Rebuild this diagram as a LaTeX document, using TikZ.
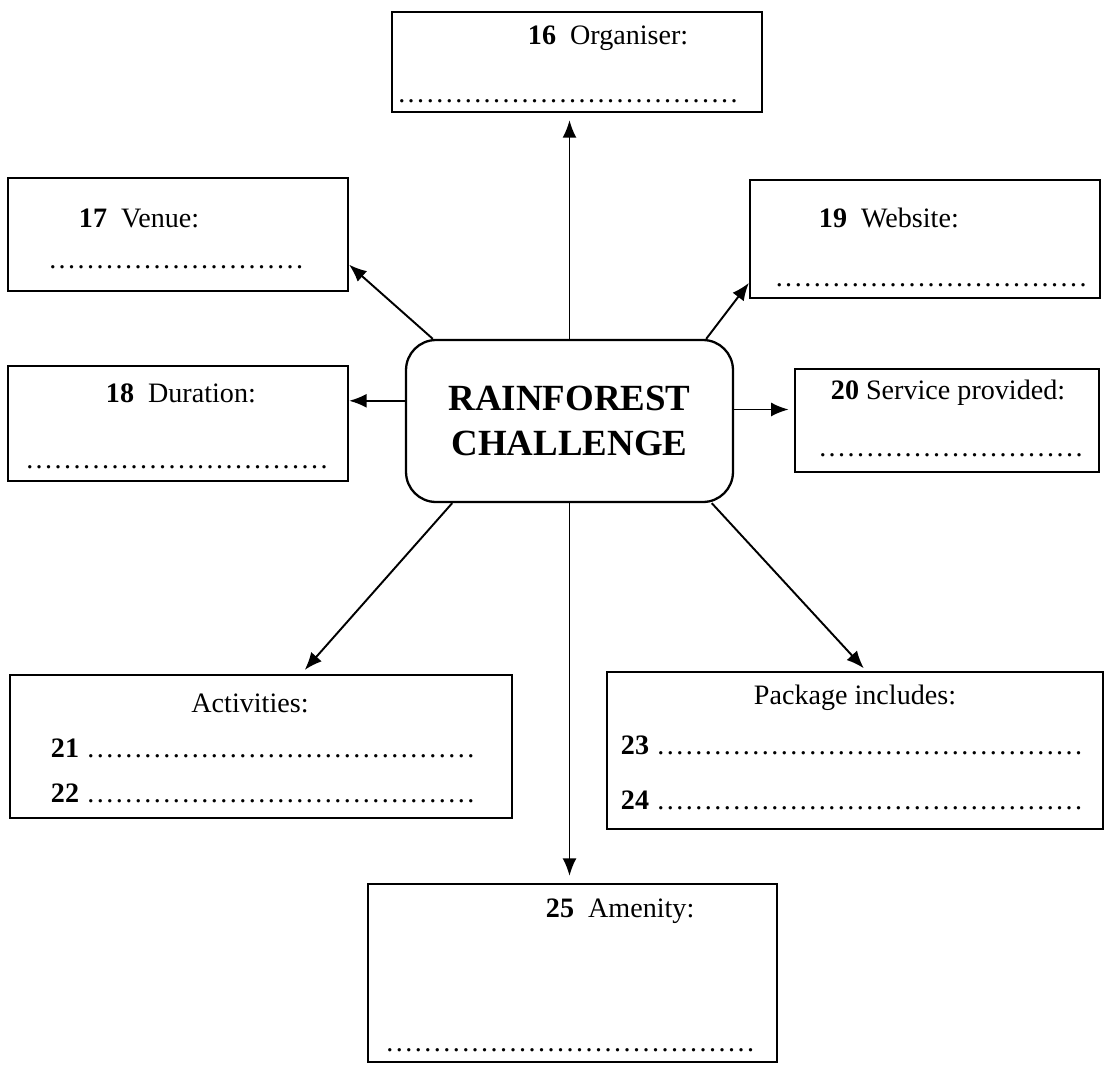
\documentclass[tikz,border=0pt]{standalone}
\usepackage{fontspec}
\setmainfont{Liberation Serif}
\usepackage{tikz}
\usetikzlibrary{arrows.meta,positioning}
\newcommand{\dotline}[1]{\hbox to #1{\leaders\hbox to 0.19cm{\hss.\hss}\hfill}}

\begin{document}
\begin{tikzpicture}[x=0.02cm,y=-0.02cm,->,>={Latex[length=10pt,width=8pt]},
                    line width=1.1pt,font=\fontsize{16}{19}\selectfont]
  \tikzstyle{answer}=[draw,rectangle,line width=1.3pt,inner sep=0pt]
  \tikzstyle{prompt}=[anchor=west,inner sep=0pt]
  \tikzstyle{blank}=[inner sep=0pt]

  \useasboundingbox (0,0) rectangle (1112,1072);

  % centre
  \node[draw,rectangle,rounded corners=0.6cm,line width=1.3pt,
        minimum width=6.54cm,minimum height=3.24cm,align=center,
        font=\fontsize{21}{25.5}\selectfont\bfseries] (ctr) at (569.5,421)
        {RAINFOREST\\CHALLENGE};

  % answer boxes
  \node[answer,minimum width=7.4cm,minimum height=2.0cm] (org) at (577,62) {};
  \node[answer,minimum width=6.8cm,minimum height=2.26cm] (venue) at (178,234.5) {};
  \node[answer,minimum width=7.0cm,minimum height=2.36cm] (web) at (925,239) {};
  \node[answer,minimum width=6.8cm,minimum height=2.3cm] (dur) at (178,423.5) {};
  \node[answer,minimum width=6.08cm,minimum height=2.06cm] (srv) at (947,420.5) {};
  \node[answer,minimum width=10.04cm,minimum height=2.86cm] (act) at (261,746.5) {};
  \node[answer,minimum width=9.92cm,minimum height=3.14cm] (pkg) at (855,750.5) {};
  \node[answer,minimum width=8.18cm,minimum height=3.56cm] (amen) at (572.5,973) {};

  % questions
  \node[prompt] (org-q) at (527,38) {\textbf{16}~~Organiser:};
  \node[blank] (org-a) at (571,101) {\dotline{6.96cm}};
  \node[prompt] (venue-q) at (78,218) {\textbf{17}~~Venue:};
  \node[blank] (venue-a) at (176.5,267) {\dotline{5.14cm}};
  \node[prompt] (web-q) at (818,218) {\textbf{19}~~Website:};
  \node[blank] (web-a) at (932,285) {\dotline{6.3cm}};
  \node[prompt] (dur-q) at (105,393) {\textbf{18}~~Duration:};
  \node[blank] (dur-a) at (177.5,467) {\dotline{6.1cm}};
  \node[prompt] (srv-q) at (830,393) {\textbf{20}~Service provided:};
  \node[blank] (srv-a) at (951.5,455) {\dotline{5.34cm}};
  \node[blank] (act-q) at (250,703) {Activities:};
  \node[prompt] (act-a) at (50,748) {\textbf{21}~\dotline{7.9cm}};
  \node[prompt] (act-b) at (50,793) {\textbf{22}~\dotline{7.9cm}};
  \node[blank] (pkg-q) at (855,698) {Package includes:};
  \node[prompt] (pkg-a) at (620,745) {\textbf{23}~\dotline{8.62cm}};
  \node[prompt] (pkg-b) at (620,800) {\textbf{24}~\dotline{8.62cm}};
  \node[prompt] (amen-q) at (545,911) {\textbf{25}~~Amenity:};
  \node[blank] (amen-a) at (572.5,1050) {\dotline{7.5cm}};

  % arrows
  \draw[shorten >=4pt] (ctr.north) -- (ctr.north |- org.south);
  \draw[shorten >=4pt] (ctr.south) -- (ctr.south |- amen.north);
  \draw (ctr.149) -- (venue.-10);
  \draw (ctr.31) -- (web.194);
  \draw (ctr.173) -- (ctr.173 -| dur.east);
  \draw[shorten >=3pt] (ctr.4.5) -- (ctr.4.5 -| srv.west);
  \draw[shorten >=3pt] (ctr.215) -- (act.61);
  \draw[shorten >=2pt] (ctr.-30) -- (pkg.82);
\end{tikzpicture}
\end{document}
